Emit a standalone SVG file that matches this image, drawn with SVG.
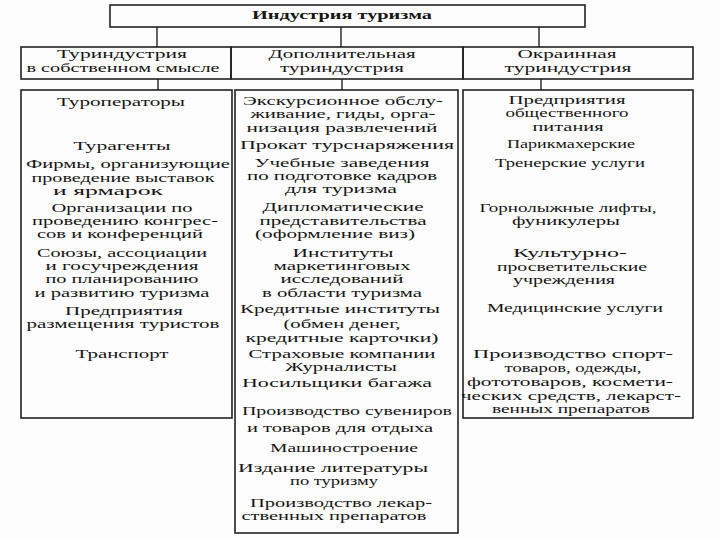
<svg xmlns="http://www.w3.org/2000/svg" width="720" height="540" viewBox="0 0 720 540">
<style>
.box{fill:none;stroke:#222;stroke-width:1.6}
.con{stroke:#222;stroke-width:1.4;fill:none}
text{font-family:"Liberation Serif","Times New Roman",serif;font-size:12px;fill:#151515;text-anchor:middle}
.h{font-weight:bold}
</style>
<rect width="720" height="540" fill="#fdfdfd"/>
<g id="connectors">
<line class="con" x1="157" y1="27" x2="157" y2="47"/>
<line class="con" x1="341" y1="27" x2="341" y2="47"/>
<line class="con" x1="539" y1="27" x2="539" y2="47"/>
<line class="con" x1="158" y1="79" x2="158" y2="90"/>
<line class="con" x1="342" y1="79" x2="342" y2="90"/>
<line class="con" x1="541" y1="79" x2="541" y2="90"/>
</g>
<g id="root">
<rect class="box" x="110" y="5" width="475" height="22"/>
<text class="h" x="342" y="19" textLength="180" lengthAdjust="spacingAndGlyphs">Индустрия туризма</text>
</g>
<g id="cat1">
<rect class="box" x="21" y="47" width="210" height="32"/>
<text x="122" y="58" textLength="130" lengthAdjust="spacingAndGlyphs">Туриндустрия</text>
<text x="123" y="72" textLength="193" lengthAdjust="spacingAndGlyphs">в собственном смысле</text>
</g>
<g id="cat2">
<rect class="box" x="231" y="47" width="232" height="32"/>
<text x="342" y="58" textLength="147" lengthAdjust="spacingAndGlyphs">Дополнительная</text>
<text x="342" y="72" textLength="124" lengthAdjust="spacingAndGlyphs">туриндустрия</text>
</g>
<g id="cat3">
<rect class="box" x="463" y="47" width="230" height="32"/>
<text x="567" y="58" textLength="99" lengthAdjust="spacingAndGlyphs">Окраинная</text>
<text x="568" y="72" textLength="127" lengthAdjust="spacingAndGlyphs">туриндустрия</text>
</g>
<g id="list1">
<rect class="box" x="21" y="90" width="211" height="328"/>
<text x="121" y="106" textLength="128" lengthAdjust="spacingAndGlyphs">Туроператоры</text>
<text x="122" y="150" textLength="97" lengthAdjust="spacingAndGlyphs">Турагенты</text>
<text x="128" y="168" textLength="204" lengthAdjust="spacingAndGlyphs">Фирмы, организующие</text>
<text x="123" y="182" textLength="183" lengthAdjust="spacingAndGlyphs">проведение выставок</text>
<text x="108" y="195" textLength="110" lengthAdjust="spacingAndGlyphs">и ярмарок</text>
<text x="122" y="212" textLength="141" lengthAdjust="spacingAndGlyphs">Организации по</text>
<text x="125" y="225" textLength="186" lengthAdjust="spacingAndGlyphs">проведению конгрес-</text>
<text x="120" y="238" textLength="166" lengthAdjust="spacingAndGlyphs">сов и конференций</text>
<text x="122" y="257" textLength="170" lengthAdjust="spacingAndGlyphs">Союзы, ассоциации</text>
<text x="122" y="270" textLength="153" lengthAdjust="spacingAndGlyphs">и госучреждения</text>
<text x="122" y="283" textLength="153" lengthAdjust="spacingAndGlyphs">по планированию</text>
<text x="122" y="297" textLength="175" lengthAdjust="spacingAndGlyphs">и развитию туризма</text>
<text x="124" y="315" textLength="118" lengthAdjust="spacingAndGlyphs">Предприятия</text>
<text x="123" y="328" textLength="193" lengthAdjust="spacingAndGlyphs">размещения туристов</text>
<text x="122" y="358" textLength="93" lengthAdjust="spacingAndGlyphs">Транспорт</text>
</g>
<g id="list2">
<rect class="box" x="235" y="90" width="223" height="443"/>
<text x="343" y="105" textLength="200" lengthAdjust="spacingAndGlyphs">Экскурсионное обслу-</text>
<text x="343" y="118" textLength="185" lengthAdjust="spacingAndGlyphs">живание, гиды, орга-</text>
<text x="342" y="132" textLength="191" lengthAdjust="spacingAndGlyphs">низация развлечений</text>
<text x="347" y="149" textLength="214" lengthAdjust="spacingAndGlyphs">Прокат турснаряжения</text>
<text x="342" y="167" textLength="175" lengthAdjust="spacingAndGlyphs">Учебные заведения</text>
<text x="342" y="180" textLength="190" lengthAdjust="spacingAndGlyphs">по подготовке кадров</text>
<text x="341" y="193" textLength="112" lengthAdjust="spacingAndGlyphs">для туризма</text>
<text x="343" y="211" textLength="161" lengthAdjust="spacingAndGlyphs">Дипломатические</text>
<text x="343" y="225" textLength="167" lengthAdjust="spacingAndGlyphs">представительства</text>
<text x="335" y="238" textLength="160" lengthAdjust="spacingAndGlyphs">(оформление виз)</text>
<text x="343" y="257" textLength="101" lengthAdjust="spacingAndGlyphs">Институты</text>
<text x="342" y="270" textLength="137" lengthAdjust="spacingAndGlyphs">маркетинговых</text>
<text x="342" y="283" textLength="123" lengthAdjust="spacingAndGlyphs">исследований</text>
<text x="342" y="297" textLength="160" lengthAdjust="spacingAndGlyphs">в области туризма</text>
<text x="340" y="313" textLength="200" lengthAdjust="spacingAndGlyphs">Кредитные институты</text>
<text x="342" y="328" textLength="117" lengthAdjust="spacingAndGlyphs">(обмен денег,</text>
<text x="342" y="342" textLength="193" lengthAdjust="spacingAndGlyphs">кредитные карточки)</text>
<text x="342" y="358" textLength="187" lengthAdjust="spacingAndGlyphs">Страховые компании</text>
<text x="341" y="371" textLength="112" lengthAdjust="spacingAndGlyphs">Журналисты</text>
<text x="337" y="387" textLength="190" lengthAdjust="spacingAndGlyphs">Носильщики багажа</text>
<text x="347" y="415" textLength="210" lengthAdjust="spacingAndGlyphs">Производство сувениров</text>
<text x="340" y="432" textLength="186" lengthAdjust="spacingAndGlyphs">и товаров для отдыха</text>
<text x="344" y="452" textLength="148" lengthAdjust="spacingAndGlyphs">Машиностроение</text>
<text x="333" y="472" textLength="190" lengthAdjust="spacingAndGlyphs">Издание литературы</text>
<text x="334" y="485" textLength="88" lengthAdjust="spacingAndGlyphs">по туризму</text>
<text x="341" y="507" textLength="182" lengthAdjust="spacingAndGlyphs">Производство лекар-</text>
<text x="334" y="520" textLength="185" lengthAdjust="spacingAndGlyphs">ственных препаратов</text>
</g>
<g id="list3">
<rect class="box" x="463" y="90" width="230" height="328"/>
<text x="567" y="104" textLength="117" lengthAdjust="spacingAndGlyphs">Предприятия</text>
<text x="567" y="117" textLength="123" lengthAdjust="spacingAndGlyphs">общественного</text>
<text x="568" y="131" textLength="71" lengthAdjust="spacingAndGlyphs">питания</text>
<text x="571" y="148" textLength="128" lengthAdjust="spacingAndGlyphs">Парикмахерские</text>
<text x="570" y="167" textLength="150" lengthAdjust="spacingAndGlyphs">Тренерские услуги</text>
<text x="568" y="212" textLength="177" lengthAdjust="spacingAndGlyphs">Горнолыжные лифты,</text>
<text x="566" y="225" textLength="108" lengthAdjust="spacingAndGlyphs">фуникулеры</text>
<text x="570" y="257" textLength="114" lengthAdjust="spacingAndGlyphs">Культурно-</text>
<text x="572" y="271" textLength="150" lengthAdjust="spacingAndGlyphs">просветительские</text>
<text x="564" y="284" textLength="102" lengthAdjust="spacingAndGlyphs">учреждения</text>
<text x="575" y="312" textLength="176" lengthAdjust="spacingAndGlyphs">Медицинские услуги</text>
<text x="573" y="358" textLength="200" lengthAdjust="spacingAndGlyphs">Производство спорт-</text>
<text x="573" y="372" textLength="137" lengthAdjust="spacingAndGlyphs">товаров, одежды,</text>
<text x="570" y="386" textLength="206" lengthAdjust="spacingAndGlyphs">фототоваров, космети-</text>
<text x="571" y="400" textLength="220" lengthAdjust="spacingAndGlyphs">ческих средств, лекарст-</text>
<text x="571" y="413" textLength="158" lengthAdjust="spacingAndGlyphs">венных препаратов</text>
</g>
</svg>
